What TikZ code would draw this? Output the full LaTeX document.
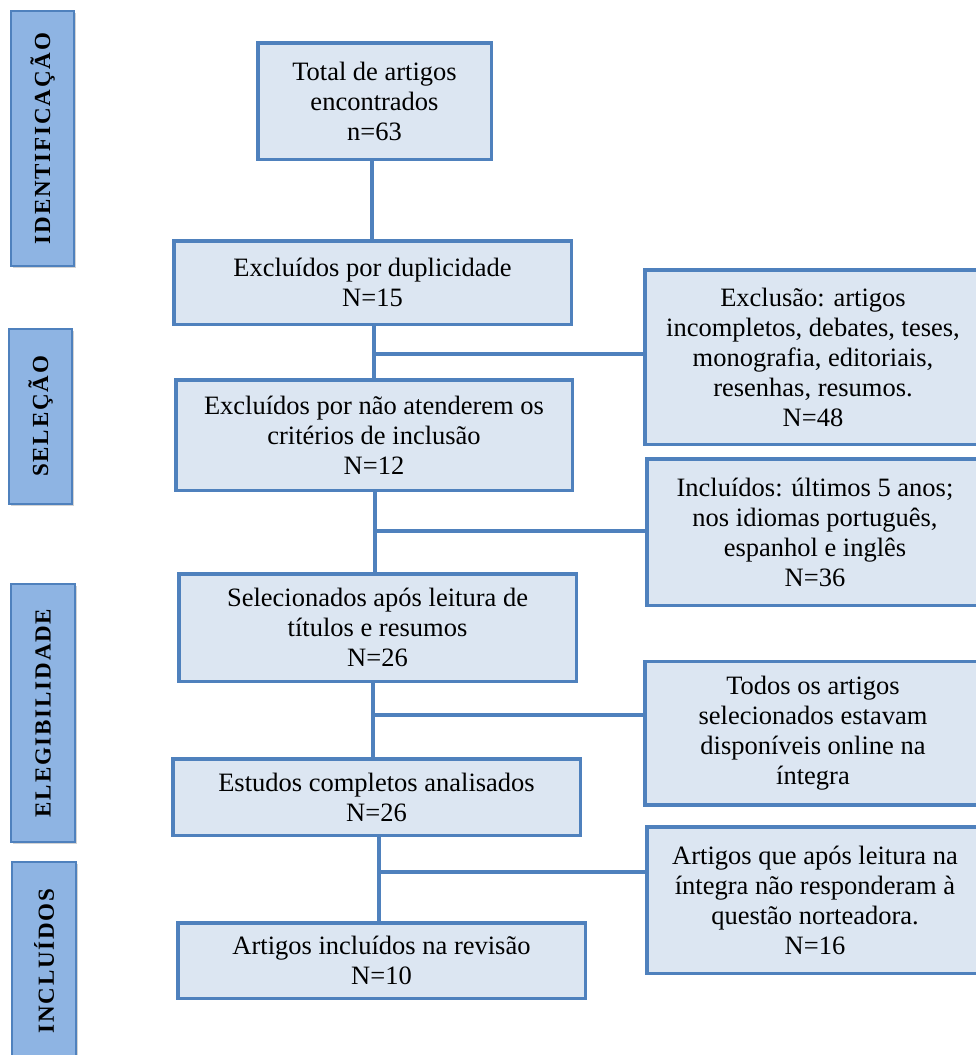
\documentclass[tikz,border=0pt]{standalone}
\usepackage{fontspec}
\setmainfont{Liberation Serif}
\newfontfamily\sidefont[LetterSpace=8]{Liberation Serif}
\usetikzlibrary{shadows}
\definecolor{bordr}{HTML}{4F81BD}
\definecolor{boxfill}{HTML}{DCE6F2}
\definecolor{sidefill}{HTML}{8EB4E3}
\begin{document}
\begin{tikzpicture}[x=1pt,y=-1pt,
  box/.style={draw=bordr, line width=3.5pt, fill=boxfill, align=center, inner sep=0pt,
    font=\fontsize{26.5}{30}\selectfont},
  sidebar/.style={draw=bordr, line width=2.5pt, fill=sidefill, rotate=90, inner sep=0pt,
    font=\sidefont\bfseries\fontsize{23}{25}\selectfont,
    drop shadow={shadow xshift=2pt, shadow yshift=-1.5pt, opacity=0.35}},
  conn/.style={draw=bordr, line width=4pt}]
\useasboundingbox (0,0) rectangle (976,1055);

% side bars
\node[sidebar, minimum width=255, minimum height=63] (s1) at (42.5,138.5) {IDENTIFICAÇÃO};
\node[sidebar, minimum width=175, minimum height=63] (s2) at (40.5,416.5) {SELEÇÃO};
\node[sidebar, minimum width=258, minimum height=64] (s3) at (43,713) {ELEGIBILIDADE};
\node[sidebar, minimum width=198, minimum height=64] (s4) at (44,961) {INCLUÍDOS};

% main column
\node[box, minimum width=233.5, minimum height=116.5] (b1) at (374.5,101) {Total de artigos\\encontrados\\n=63};
\node[box, minimum width=397.5, minimum height=83.5] (b2) at (372.5,282.5) {Excluídos por duplicidade\\N=15};
\node[box, minimum width=396.5, minimum height=110.5] (b3) at (374,435) {Excluídos por não atenderem os\\critérios de inclusão\\N=12};
\node[box, minimum width=397.5, minimum height=107.5] (b4) at (377.5,627.5) {Selecionados após leitura de\\títulos e resumos\\N=26};
\node[box, minimum width=407.5, minimum height=76.5] (b5) at (376.5,797) {Estudos completos analisados\\N=26};
\node[box, minimum width=407.5, minimum height=75.5] (b6) at (381.5,960.5) {Artigos incluídos na revisão\\N=10};

% right column
\node[box, minimum width=336.5, minimum height=174.5] (r1) at (813,357) {Exclusão: artigos\\incompletos, debates, teses,\\monografia, editoriais,\\resenhas, resumos.\\N=48};
\node[box, minimum width=336.5, minimum height=146.5] (r2) at (815,532) {Incluídos: últimos 5 anos;\\nos idiomas português,\\espanhol e inglês\\N=36};
\node[box, minimum width=336.5, minimum height=143.5] (r3) at (813,733) {Todos os artigos\\selecionados estavam\\disponíveis online na\\íntegra};
\node[box, minimum width=336.5, minimum height=146.5] (r4) at (815,900) {Artigos que após leitura na\\íntegra não responderam à\\questão norteadora.\\N=16};

% connector x positions and junctions
\coordinate (v1) at (372,0);
\coordinate (v2) at (374,0);
\coordinate (v3) at (375,0);
\coordinate (v4) at (373,0);
\coordinate (v5) at (379,0);
\coordinate (j1) at (374,354);
\coordinate (j2) at (375,531);
\coordinate (j3) at (373,715);
\coordinate (j4) at (379,872);

\draw[conn] (b1.south -| v1) -- (b2.north -| v1);
\draw[conn] (b2.south -| v2) -- (b3.north -| v2);
\draw[conn] (b3.south -| v3) -- (b4.north -| v3);
\draw[conn] (b4.south -| v4) -- (b5.north -| v4);
\draw[conn] (b5.south -| v5) -- (b6.north -| v5);
\draw[conn] (j1) -- (j1 -| r1.west);
\draw[conn] (j2) -- (j2 -| r2.west);
\draw[conn] (j3) -- (j3 -| r3.west);
\draw[conn] (j4) -- (j4 -| r4.west);
\end{tikzpicture}
\end{document}
